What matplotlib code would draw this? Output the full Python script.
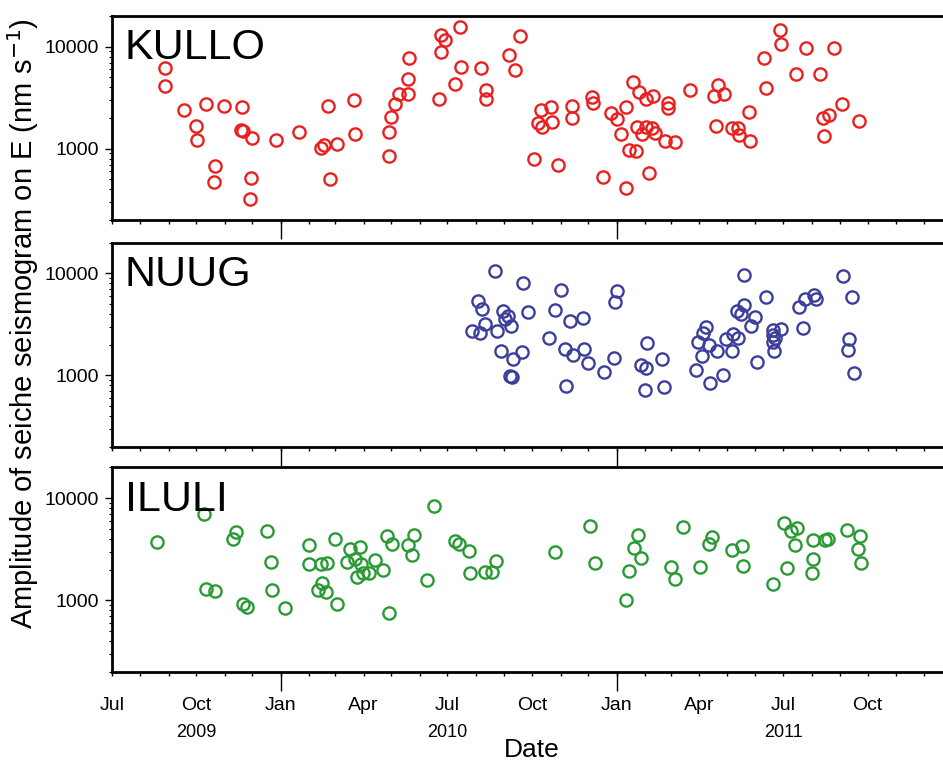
import matplotlib
matplotlib.use('Agg')
import matplotlib.pyplot as plt
import matplotlib.dates as mdates
import matplotlib.ticker as mticker
import datetime as dt

plt.rcParams['font.family'] = ['Liberation Sans', 'DejaVu Sans']

# ---------------- data ----------------
stations = ['KULLO', 'NUUG', 'ILULI']
colors = ['#e8201f', '#3b3f9b', '#2a9a35']

kullo_dates = [
    '2009-08-28', '2009-08-28', '2009-09-18', '2009-10-01', '2009-10-02', '2009-10-12',
    '2009-10-21', '2009-10-20', '2009-10-31', '2009-11-20', '2009-11-19', '2009-11-21',
    '2009-12-01', '2009-11-29', '2009-11-28', '2009-12-27', '2010-01-21', '2010-02-14',
    '2010-02-17', '2010-03-03', '2010-02-21', '2010-02-23', '2010-03-22', '2010-03-23',
    '2010-04-29', '2010-04-29', '2010-05-01', '2010-05-05', '2010-05-09', '2010-05-19',
    '2010-05-19', '2010-05-20', '2010-06-22', '2010-06-24', '2010-06-24', '2010-06-28',
    '2010-07-15', '2010-07-09', '2010-07-16', '2010-08-07', '2010-08-12', '2010-08-12',
    '2010-09-06', '2010-09-13', '2010-09-18', '2010-10-03', '2010-10-11', '2010-10-08',
    '2010-10-12', '2010-10-22', '2010-10-23', '2010-10-29', '2010-11-13', '2010-11-14',
    '2010-12-05', '2010-12-06', '2010-12-17', '2010-12-26', '2011-01-01', '2011-01-11',
    '2011-01-06', '2011-01-11', '2011-01-14', '2011-01-22', '2011-01-19', '2011-01-25',
    '2011-02-02', '2011-02-10', '2011-01-23', '2011-01-29', '2011-02-02', '2011-02-09',
    '2011-02-12', '2011-02-05', '2011-02-23', '2011-03-05', '2011-02-26', '2011-02-26',
    '2011-03-22', '2011-04-21', '2011-04-17', '2011-04-28', '2011-04-19', '2011-05-06',
    '2011-05-13', '2011-05-14', '2011-05-25', '2011-05-26', '2011-06-10', '2011-06-12',
    '2011-06-28', '2011-06-29', '2011-07-26', '2011-07-15', '2011-08-10', '2011-08-25',
    '2011-09-03', '2011-08-20', '2011-08-13', '2011-08-14', '2011-09-22']
kullo_amp = [
    6220, 4120, 2410, 1680, 1210, 2740,
    676, 474, 2640, 2550, 1525, 1480,
    1270, 520, 321, 1210, 1450, 1020,
    1090, 1120, 2620, 501, 3000, 1400,
    1470, 848, 2030, 2740, 3460, 3440,
    4790, 7700, 3070, 8930, 13000, 11630,
    15700, 4280, 6280, 6140, 3760, 3090,
    8240, 5870, 12650, 787, 2410, 1775,
    1640, 2560, 1830, 692, 2640, 2010,
    3210, 2790, 532, 2220, 1970, 2560,
    1400, 409, 977, 949, 4540, 3570,
    3050, 3290, 1620, 1380, 1640, 1585,
    1415, 578, 1180, 1160, 2830, 2490,
    3790, 4180, 3310, 3440, 1680, 1585,
    1585, 1360, 2270, 1200, 7750, 3940,
    14500, 10560, 9650, 5360, 5440, 9650,
    2740, 2125, 1990, 1340, 1860]

nuug_dates = [
    '2010-07-28', '2010-08-03', '2010-08-06', '2010-08-08', '2010-08-11', '2010-08-22',
    '2010-08-24', '2010-08-28', '2010-08-31', '2010-09-02', '2010-09-05', '2010-09-08',
    '2010-09-07', '2010-09-09', '2010-09-10', '2010-09-20', '2010-09-21', '2010-09-27',
    '2010-10-19', '2010-10-26', '2010-11-02', '2010-11-06', '2010-11-07', '2010-11-11',
    '2010-11-15', '2010-11-25', '2010-11-26', '2010-12-01', '2010-12-18', '2010-12-29',
    '2010-12-30', '2011-01-01', '2011-01-28', '2011-02-02', '2011-02-01', '2011-02-03',
    '2011-02-19', '2011-02-21', '2011-03-28', '2011-03-31', '2011-04-05', '2011-04-04',
    '2011-04-08', '2011-04-11', '2011-04-12', '2011-04-20', '2011-04-27', '2011-04-30',
    '2011-05-06', '2011-05-08', '2011-05-13', '2011-05-12', '2011-05-16', '2011-05-19',
    '2011-05-19', '2011-05-27', '2011-06-01', '2011-06-03', '2011-06-12', '2011-06-20',
    '2011-06-29', '2011-06-20', '2011-06-22', '2011-06-20', '2011-06-21', '2011-07-18',
    '2011-07-23', '2011-07-25', '2011-08-04', '2011-08-06', '2011-09-04', '2011-09-14',
    '2011-09-11', '2011-09-10', '2011-09-16']
nuug_amp = [
    2700, 5360, 2590, 4500, 3180, 10490,
    2720, 1730, 4260, 3550, 3800, 3060,
    993, 957, 1460, 1690, 8050, 4210,
    2310, 4350, 6950, 1820, 796, 3410,
    1575, 3650, 1805, 1330, 1072, 1470,
    5240, 6690, 1265, 1195, 727, 2065,
    1440, 764, 1125, 2110, 2590, 1550,
    2970, 1965, 852, 1730, 1002, 2265,
    1730, 2520, 2330, 4250, 4000, 4930,
    9710, 3030, 3740, 1360, 5830, 2805,
    2850, 2505, 2340, 2110, 1745, 4720,
    2935, 5570, 6110, 5570, 9440, 5830,
    2285, 1775, 1049]

iluli_dates = [
    '2009-08-19', '2009-10-09', '2009-10-11', '2009-10-21', '2009-11-10', '2009-11-13',
    '2009-11-21', '2009-11-25', '2009-12-17', '2009-12-21', '2009-12-22', '2010-01-05',
    '2010-01-31', '2010-01-31', '2010-02-14', '2010-02-20', '2010-02-15', '2010-02-10',
    '2010-02-19', '2010-03-01', '2010-03-03', '2010-03-14', '2010-03-17', '2010-03-28',
    '2010-03-23', '2010-03-29', '2010-03-25', '2010-03-31', '2010-04-07', '2010-04-13',
    '2010-04-22', '2010-04-26', '2010-05-02', '2010-04-28', '2010-05-19', '2010-05-26',
    '2010-05-23', '2010-06-09', '2010-06-16', '2010-07-09', '2010-07-14', '2010-07-25',
    '2010-07-26', '2010-08-11', '2010-08-19', '2010-08-23', '2010-10-26', '2010-12-03',
    '2010-12-09', '2011-01-11', '2011-01-14', '2011-01-20', '2011-01-24', '2011-01-28',
    '2011-03-01', '2011-03-06', '2011-03-14', '2011-04-02', '2011-04-11', '2011-04-15',
    '2011-05-06', '2011-05-17', '2011-05-18', '2011-06-20', '2011-07-02', '2011-07-05',
    '2011-07-10', '2011-07-16', '2011-07-14', '2011-08-02', '2011-08-03', '2011-08-01',
    '2011-08-16', '2011-08-19', '2011-09-08', '2011-09-23', '2011-09-20', '2011-09-24']
iluli_amp = [
    3730, 6920, 1282, 1245, 3940, 4610,
    914, 859, 4750, 2360, 1273, 848,
    3460, 2270, 2240, 2305, 1479, 1253,
    1205, 3940, 929, 2360, 3140, 3290,
    2520, 2255, 1692, 1853, 1828, 2505,
    1968, 4240, 3540, 757, 3485, 4365,
    2780, 1581, 8350, 3815, 3540, 3045,
    1828, 1910, 1910, 2410, 2935, 5320,
    2290, 1000, 1938, 3235, 4310, 2565,
    2107, 1607, 5160, 2120, 3515, 4120,
    3115, 3360, 2140, 1458, 5725, 2060,
    4750, 5045, 3485, 3850, 2540, 1840,
    3920, 3990, 4890, 4210, 3210, 2320]

series_dates = [kullo_dates, nuug_dates, iluli_dates]
series_amp = [kullo_amp, nuug_amp, iluli_amp]

x_start, x_end = dt.date(2009, 7, 1), dt.date(2012, 1, 1)
last_label = dt.date(2011, 10, 1)
y_min, y_max = 200, 20000
year_labels = [('2009-10-01', '2009'), ('2010-07-01', '2010'), ('2011-07-01', '2011')]
ylabel = 'Amplitude of seiche seismogram on E (nm s$^{-1}$)'
xlabel = 'Date'

# ---------------- figure ----------------
W, H = 943, 763
fig = plt.figure(figsize=(W / 100, H / 100), dpi=100)


def rect(left, top, right, bottom):
    return [left / W, 1 - bottom / H, (right - left) / W, (bottom - top) / H]


panel_px = [(111.7, 16.0, 952.3, 220.0),
            (111.7, 242.7, 952.3, 446.7),
            (111.7, 467.3, 952.3, 671.7)]


def month_label(x, pos):
    d = mdates.num2date(x)
    if d.date() > last_label:
        return ''
    return d.strftime('%b') if d.month in (1, 4, 7, 10) else ''


for i, (name, col) in enumerate(zip(stations, colors)):
    ax = fig.add_axes(rect(*panel_px[i]))
    dates = [dt.datetime.strptime(s, '%Y-%m-%d') for s in series_dates[i]]
    ax.plot(dates, series_amp[i], linestyle='none', marker='o', markersize=8.8,
            markerfacecolor='none', markeredgecolor=col, markeredgewidth=1.7)
    ax.set_yscale('log')
    ax.set_ylim(y_min, y_max)
    ax.set_xlim(x_start, x_end)

    ax.yaxis.set_major_locator(mticker.LogLocator(base=10, numticks=10))
    ax.yaxis.set_minor_locator(mticker.LogLocator(base=10, subs=range(2, 10), numticks=20))
    ax.yaxis.set_major_formatter(mticker.FuncFormatter(lambda v, p: '%d' % round(v)))
    ax.yaxis.set_minor_formatter(mticker.NullFormatter())
    ax.tick_params(axis='y', which='major', length=5, width=1.0, labelsize=14, pad=4,
                   direction='out', right=False)
    ax.tick_params(axis='y', which='minor', length=2.5, width=0.8, direction='out', right=False)

    ax.xaxis.set_major_locator(mdates.MonthLocator(bymonth=[1]))
    ax.xaxis.set_minor_locator(mdates.MonthLocator())
    ax.xaxis.remove_overlapping_locs = False
    ax.xaxis.set_major_formatter(mticker.NullFormatter())
    ax.tick_params(axis='x', which='major', length=14, width=1.0, direction='out', top=False)
    ax.tick_params(axis='x', which='minor', length=3, width=1.0, direction='out', top=False,
                   labelsize=14, pad=15)
    if i == 2:
        ax.xaxis.set_minor_formatter(mticker.FuncFormatter(month_label))
        for dstr, yl in year_labels:
            ax.annotate(yl, xy=(dt.datetime.strptime(dstr, '%Y-%m-%d'), 0),
                        xycoords=('data', 'axes fraction'), xytext=(0, -44),
                        textcoords='offset points', ha='center', va='center', fontsize=13)
    else:
        ax.xaxis.set_minor_formatter(mticker.NullFormatter())

    for sp in ax.spines.values():
        sp.set_linewidth(2.0)
        sp.set_color('black')

    ax.text(0.0155, 0.94, name, transform=ax.transAxes, ha='left', va='top',
            fontsize=31, color='black')

fig.text(23 / W, 1 - 324 / H, ylabel, rotation=90, ha='center', va='center', fontsize=21)
fig.text(532 / W, 1 - 750 / H, xlabel, ha='center', va='center', fontsize=19)

fig.savefig('out.png', dpi=100)
